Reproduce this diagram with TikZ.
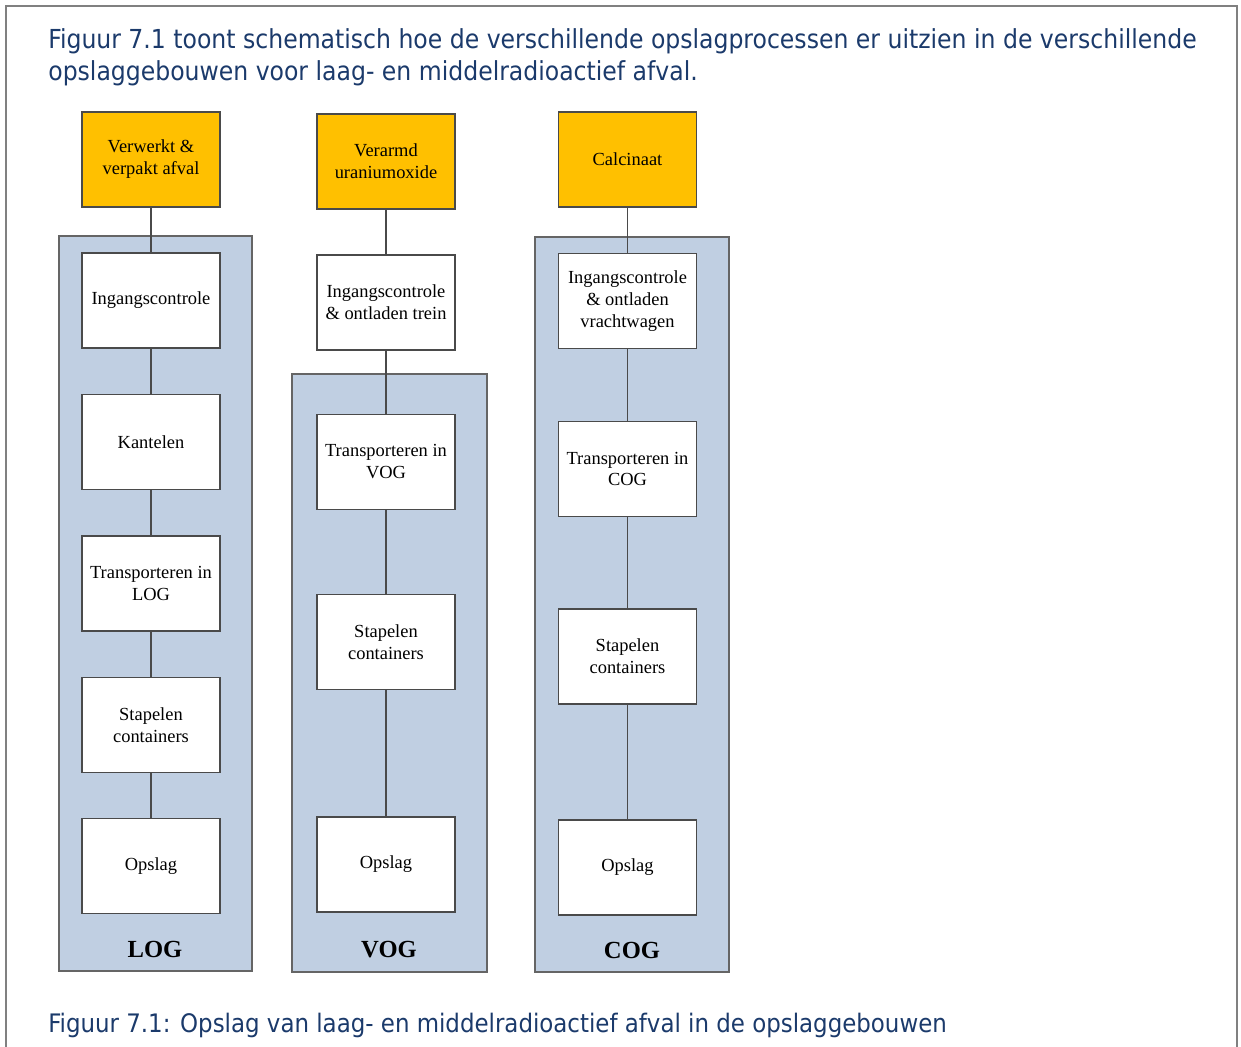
\documentclass[tikz,border=0pt]{standalone}
\usepackage{fontspec}
\setmainfont{Liberation Serif}
\newfontfamily\headfont{DejaVu Sans Condensed}
\definecolor{headblue}{HTML}{1B3A6B}
\definecolor{wasteyellow}{HTML}{FFC000}
\definecolor{panelblue}{HTML}{C0CFE2}
\definecolor{linegray}{HTML}{4A4A4A}
\tikzset{
	headtext/.style={anchor=base west, inner sep=0pt, text=headblue, font=\headfont\fontsize{14.9}{17}\selectfont},
	captext/.style={headtext, font=\headfont\fontsize{14.5}{17}\selectfont},
	stepbox/.style={draw=linegray, line width=0.9pt, fill=white, minimum width=2.76cm, minimum height=1.9cm, align=center, inner sep=1pt, font=\fontsize{10.5}{12.5}\selectfont},
	wastebox/.style={stepbox, fill=wasteyellow},
	panel/.style={draw=linegray!85, line width=1.1pt, fill=panelblue},
	panellabel/.style={font=\bfseries\fontsize{14}{16}\selectfont},
	link/.style={draw=linegray, line width=1pt}
}
\begin{document}
\begin{tikzpicture}[x=0.02cm, y=-0.02cm]
	\useasboundingbox (0,0) rectangle (1241,1047);
	\draw [gray, line width=1.2pt] (6,1047) -- (6,6) -- (1237,6) -- (1237,1047);
	
	\node [headtext] (intro1) at (48,49) {Figuur 7.1 toont schematisch hoe de verschillende opslagprocessen er uitzien in de verschillende};
	\node [headtext] (intro2) at (48,81) {opslaggebouwen voor laag- en middelradioactief afval.};
	
	% gebouwen
	\filldraw [panel] (59,236) rectangle (252,971);
	\filldraw [panel] (292,374) rectangle (487,972);
	\filldraw [panel] (535,237) rectangle (729,972);
	
	% LOG
	\node [wastebox] (lwaste) at (151,159.5) {Verwerkt \&\\verpakt afval};
	\node [stepbox] (lcheck) at (151,300.5) {Ingangscontrole};
	\node [stepbox] (ltilt) at (151,442) {Kantelen};
	\node [stepbox] (ltrans) at (151,583.5) {Transporteren in\\LOG};
	\node [stepbox] (lstack) at (151,725) {Stapelen\\containers};
	\node [stepbox] (lstore) at (151,866) {Opslag};
	\node [panellabel] (llabel) at (155,949) {LOG};
	
	% VOG
	\node [wastebox] (vwaste) at (386,161.5) {Verarmd\\uraniumoxide};
	\node [stepbox] (vcheck) at (386,302.5) {Ingangscontrole\\\& ontladen trein};
	\node [stepbox] (vtrans) at (386,462) {Transporteren in\\VOG};
	\node [stepbox] (vstack) at (386,642) {Stapelen\\containers};
	\node [stepbox] (vstore) at (386,864.5) {Opslag};
	\node [panellabel] (vlabel) at (389,950) {VOG};
	
	% COG
	\node [wastebox] (cwaste) at (627.5,159.5) {Calcinaat};
	\node [stepbox] (ccheck) at (627.5,301) {Ingangscontrole\\\& ontladen\\vrachtwagen};
	\node [stepbox] (ctrans) at (627.5,469) {Transporteren in\\COG};
	\node [stepbox] (cstack) at (627.5,656.5) {Stapelen\\containers};
	\node [stepbox] (cstore) at (627.5,867.5) {Opslag};
	\node [panellabel] (clabel) at (632,950) {COG};
	
	\draw [link] (lwaste) -- (lcheck) -- (ltilt) -- (ltrans) -- (lstack) -- (lstore);
	\draw [link] (vwaste) -- (vcheck) -- (vtrans) -- (vstack) -- (vstore);
	\draw [link] (cwaste) -- (ccheck) -- (ctrans) -- (cstack) -- (cstore);
	
	\node [captext] (caption) at (48,1032) {Figuur 7.1: Opslag van laag- en middelradioactief afval in de opslaggebouwen};
\end{tikzpicture}
\end{document}
